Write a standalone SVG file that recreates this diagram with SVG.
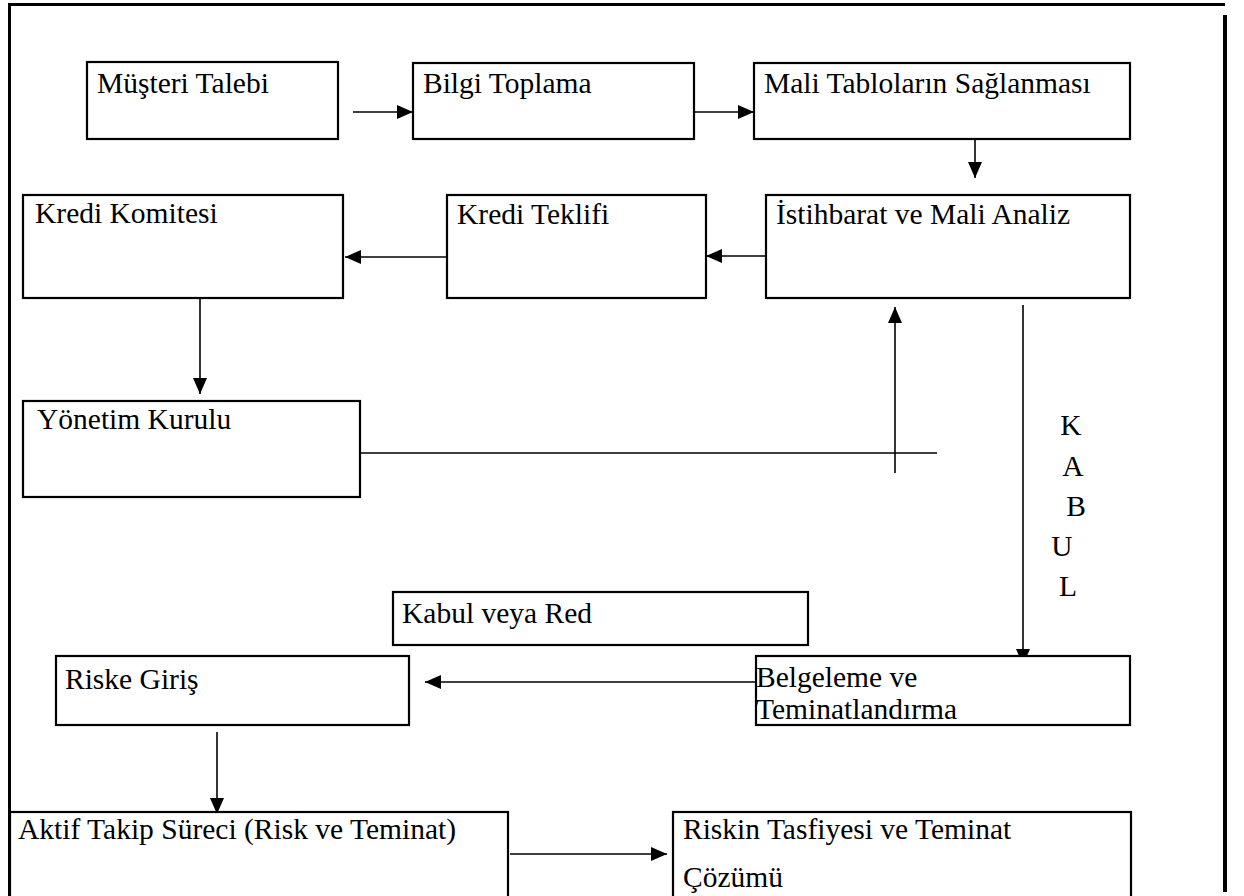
<svg xmlns="http://www.w3.org/2000/svg" width="1244" height="896" viewBox="0 0 1244 896">
<style>
.box{fill:#fff;stroke:#000;stroke-width:2.2}
.t{font-family:"Liberation Serif","Times New Roman",serif;font-size:29.5px;fill:#000}
.c{stroke:#000;stroke-width:1.6;fill:none}
.frame{stroke:#000;fill:none}
</style>
<defs>
<marker id="ah" markerUnits="userSpaceOnUse" markerWidth="16" markerHeight="14" refX="16" refY="7" orient="auto">
<path d="M0,0 L16,7 L0,14 Z" fill="#000"/>
</marker>
</defs>
<rect width="1244" height="896" fill="#fff"/>
<g id="frame">
<line class="frame" x1="8" y1="4.5" x2="1225" y2="4.5" stroke-width="3"/>
<line class="frame" x1="9.5" y1="3" x2="9.5" y2="896" stroke-width="3"/>
<line class="frame" x1="1225" y1="15" x2="1225" y2="892" stroke-width="4"/>
</g>
<g id="connectors">
<line class="c" x1="353" y1="112" x2="413" y2="112" marker-end="url(#ah)"/>
<line class="c" x1="694" y1="112" x2="754" y2="112" marker-end="url(#ah)"/>
<line class="c" x1="975" y1="130" x2="975" y2="178" marker-end="url(#ah)"/>
<line class="c" x1="771" y1="256" x2="706" y2="256" marker-end="url(#ah)"/>
<line class="c" x1="457" y1="257" x2="345" y2="257" marker-end="url(#ah)"/>
<line class="c" x1="200" y1="298" x2="200" y2="394" marker-end="url(#ah)"/>
<line class="c" x1="360" y1="453" x2="937" y2="453"/>
<line class="c" x1="895" y1="473" x2="895" y2="307" marker-end="url(#ah)"/>
<line class="c" x1="1023" y1="305" x2="1023" y2="665" marker-end="url(#ah)"/>
<line class="c" x1="756" y1="682" x2="425" y2="682" marker-end="url(#ah)"/>
<line class="c" x1="217" y1="732" x2="217" y2="814" marker-end="url(#ah)"/>
<line class="c" x1="510" y1="854" x2="667" y2="854" marker-end="url(#ah)"/>
</g>
<g id="musteri-talebi"><rect class="box" x="87" y="62" width="251" height="77"/><text class="t" x="97" y="93">Müşteri Talebi</text></g>
<g id="bilgi-toplama"><rect class="box" x="413" y="63" width="281" height="76"/><text class="t" x="423" y="93">Bilgi Toplama</text></g>
<g id="mali-tablolar"><rect class="box" x="754" y="63" width="376" height="76"/><text class="t" x="764" y="93">Mali Tabloların Sağlanması</text></g>
<g id="istihbarat"><rect class="box" x="766" y="195" width="364" height="103"/><text class="t" x="776" y="224">İstihbarat ve Mali Analiz</text></g>
<g id="kredi-teklifi"><rect class="box" x="447" y="195" width="259" height="103"/><text class="t" x="457" y="224">Kredi Teklifi</text></g>
<g id="kredi-komitesi"><rect class="box" x="23" y="195" width="320" height="103"/><text class="t" x="35" y="223">Kredi Komitesi</text></g>
<g id="yonetim-kurulu"><rect class="box" x="23" y="401" width="337" height="96"/><text class="t" x="37" y="429">Yönetim Kurulu</text></g>
<g id="kabul-veya-red"><rect class="box" x="393" y="592" width="415" height="53"/><text class="t" x="402" y="623">Kabul veya Red</text></g>
<g id="kabul-label">
<text class="t" x="1071" y="435" text-anchor="middle">K</text>
<text class="t" x="1073" y="476" text-anchor="middle">A</text>
<text class="t" x="1076" y="516" text-anchor="middle">B</text>
<text class="t" x="1062" y="556" text-anchor="middle">U</text>
<text class="t" x="1068" y="596" text-anchor="middle">L</text>
</g>
<g id="belgeleme"><rect class="box" x="756" y="656" width="374" height="69"/><text class="t" x="756" y="687">Belgeleme ve</text><text class="t" x="756" y="719">Teminatlandırma</text></g>
<g id="riske-giris"><rect class="box" x="56" y="656" width="353" height="69"/><text class="t" x="65" y="689">Riske Giriş</text></g>
<g id="aktif-takip"><rect class="box" x="10" y="812" width="498" height="90"/><text class="t" x="18" y="839">Aktif Takip Süreci (Risk ve Teminat)</text></g>
<g id="riskin-tasfiyesi"><rect class="box" x="673" y="812" width="458" height="90"/><text class="t" x="683" y="839">Riskin Tasfiyesi ve Teminat</text><text class="t" x="683" y="887">Çözümü</text></g>
</svg>
